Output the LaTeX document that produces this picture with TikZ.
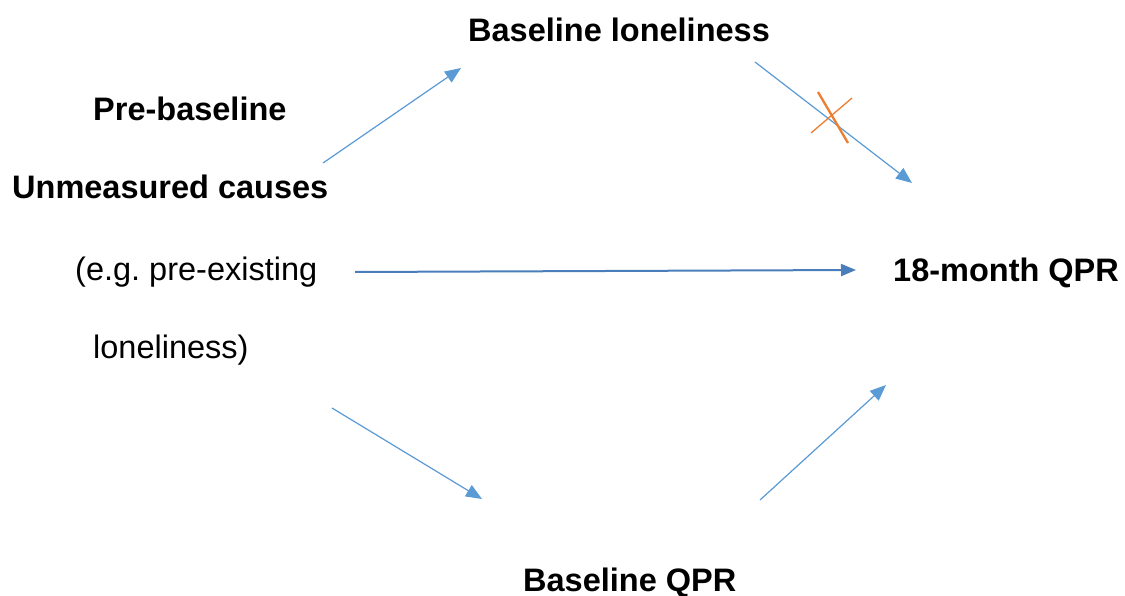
\documentclass[tikz,border=0pt]{standalone}
\usepackage{fontspec}
\setmainfont{Liberation Sans}
\usetikzlibrary{arrows.meta}
\definecolor{thinblue}{HTML}{5B9BD5}
\definecolor{thickblue}{HTML}{4A7EBB}
\definecolor{crossorange}{HTML}{ED7D31}
\frenchspacing
\begin{document}
\begin{tikzpicture}[x=1pt,y=-1pt,
  lbl/.style={anchor=base west,inner sep=0pt,font=\fontsize{32.5}{39}\selectfont},
  blbl/.style={lbl,font=\fontsize{32.5}{39}\selectfont\bfseries},
  thinarrow/.style={draw=thinblue,line width=1.2pt,-{Triangle[length=16pt,width=13pt]},fill=thinblue},
  thickarrow/.style={draw=thickblue,line width=2pt,-{Triangle[length=15pt,width=12pt]}}]
\useasboundingbox (0,0) rectangle (1125,596);
% texts
\node[blbl] (bl) at (468,42) {Baseline loneliness};
\node[blbl] (pre) at (93,121) {Pre-baseline};
\node[blbl] (unm) at (12,199) {Unmeasured causes};
\node[lbl] (eg) at (75,280) {(e.g.\ pre-existing};
\node[lbl] (lon) at (93,358) {loneliness)};
\node[blbl] (out) at (893,282) {18-month QPR};
\node[blbl] (bq) at (523,591) {Baseline QPR};
% arrow end points
\coordinate (a1s) at (323,163); \coordinate (a1e) at (461,68);
\coordinate (a2s) at (755,62);  \coordinate (a2e) at (912,183);
\coordinate (a3s) at (355,272); \coordinate (a3e) at (856,270);
\coordinate (a4s) at (332,408); \coordinate (a4e) at (482,499);
\coordinate (a5s) at (760,500); \coordinate (a5e) at (886,385);
\draw[thinarrow] (a1s) -- (a1e);
\draw[thinarrow] (a2s) -- (a2e);
\draw[thickarrow] (a3s) -- (a3e);
\draw[thinarrow] (a4s) -- (a4e);
\draw[thinarrow] (a5s) -- (a5e);
% cross
\coordinate (c1s) at (818,92); \coordinate (c1e) at (848,143);
\coordinate (c2s) at (811,133); \coordinate (c2e) at (852,98);
\draw[crossorange,line width=2.3pt] (c1s) -- (c1e);
\draw[crossorange,line width=1.3pt] (c2s) -- (c2e);
\end{tikzpicture}
\end{document}
